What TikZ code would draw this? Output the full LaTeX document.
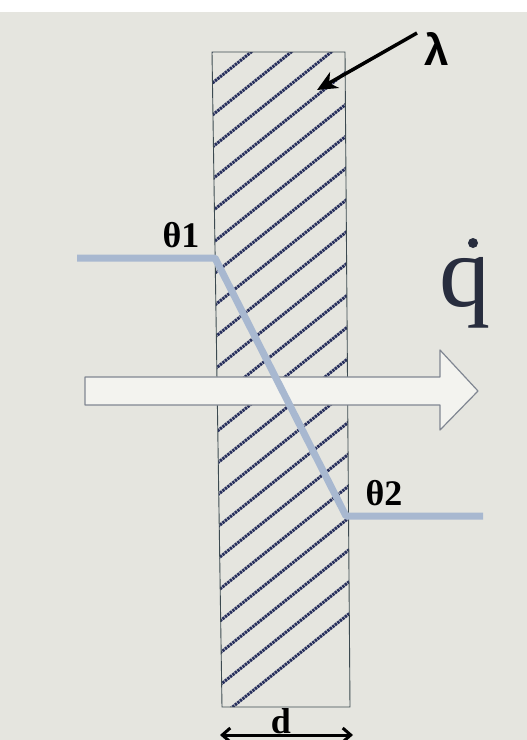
\documentclass[tikz,border=0pt]{standalone}
\usepackage{fontspec}
\setmainfont{Liberation Serif}
\newfontfamily\lamfont{Liberation Sans}
\usetikzlibrary{arrows.meta}
\definecolor{bgpaper}{RGB}{229,229,223}
\definecolor{hatchblue}{RGB}{38,46,92}
\definecolor{profile}{RGB}{168,184,208}
\definecolor{arrowedge}{RGB}{128,134,146}
\definecolor{arrowfill}{RGB}{243,243,239}
\definecolor{qink}{RGB}{40,45,62}
\definecolor{walledge}{RGB}{60,74,80}

\begin{document}
\begin{tikzpicture}[x=1pt,y=-1pt,
  hatch/.style={hatchblue, line width=3pt, dash pattern=on 2.4pt off 0.8pt},
  templine/.style={profile, line width=7pt, line join=round},
  lab/.style={font=\fontsize{36}{36}\selectfont\bfseries, inner sep=0pt, anchor=base}]
% Background
\fill[bgpaper] (0,0) rectangle (527,740);
\fill[white] (0,0) rectangle (527,12);
\useasboundingbox (0,0) rectangle (527,740);

% Wall corners
\coordinate (wtl) at (212,52);
\coordinate (wtr) at (345,52);
\coordinate (wbr) at (350,707);
\coordinate (wbl) at (222,707);

% Hatching of the wall
\begin{scope}
\clip (wtl) -- (wtr) -- (wbr) -- (wbl) -- cycle;
\foreach \k in {-2,...,20}
  \draw[hatch] (200,93+32*\k) -- ++(160,-128);
\end{scope}
\draw[walledge, line width=0.9pt] (wtl) -- (wtr) -- (wbr) -- (wbl) -- cycle;

% Heat flow arrow
\filldraw[fill=arrowfill, draw=arrowedge, line width=1.2pt, line join=round]
  (85,377) -- (440,377) -- (440,350) -- (478,391) -- (440,430) -- (440,405) -- (85,405) -- cycle;

% Temperature profile
\coordinate (p0) at (77,258);
\coordinate (p1) at (215,258);
\coordinate (p2) at (346,516);
\coordinate (p3) at (483,516);
\draw[templine] (p0) -- (p1) -- (p2) -- (p3);

% Labels
\node[lab] (t1) at (181,247) {θ1};
\node[lab] (t2) at (384,505) {θ2};
\node[text=qink, font=\fontsize{102}{102}\selectfont, inner sep=0pt, anchor=base] (q) at (465,306) {q};
\node[circle, fill=qink, inner sep=0pt, minimum size=10pt] (qdot) at (473,243) {};
\node[font=\lamfont\fontsize{44}{44}\selectfont\bfseries, inner sep=0pt, anchor=base] (lam) at (437,65) {λ};

% Lambda pointer
\coordinate (lamtail) at (417,33);
\coordinate (lamtip) at (317,90);
\draw[line width=3.5pt, -{Stealth[length=20pt,width=18pt,inset=6pt]}] (lamtail) -- (lamtip);

% Thickness d
\coordinate (da) at (220,735);
\coordinate (db) at (353,735);
\draw[line width=3pt, {Straight Barb[length=8pt,width=14pt]}-{Straight Barb[length=8pt,width=14pt]}] (da) -- (db);
\node[lab] (d) at (281,733) {d};
\end{tikzpicture}
\end{document}
